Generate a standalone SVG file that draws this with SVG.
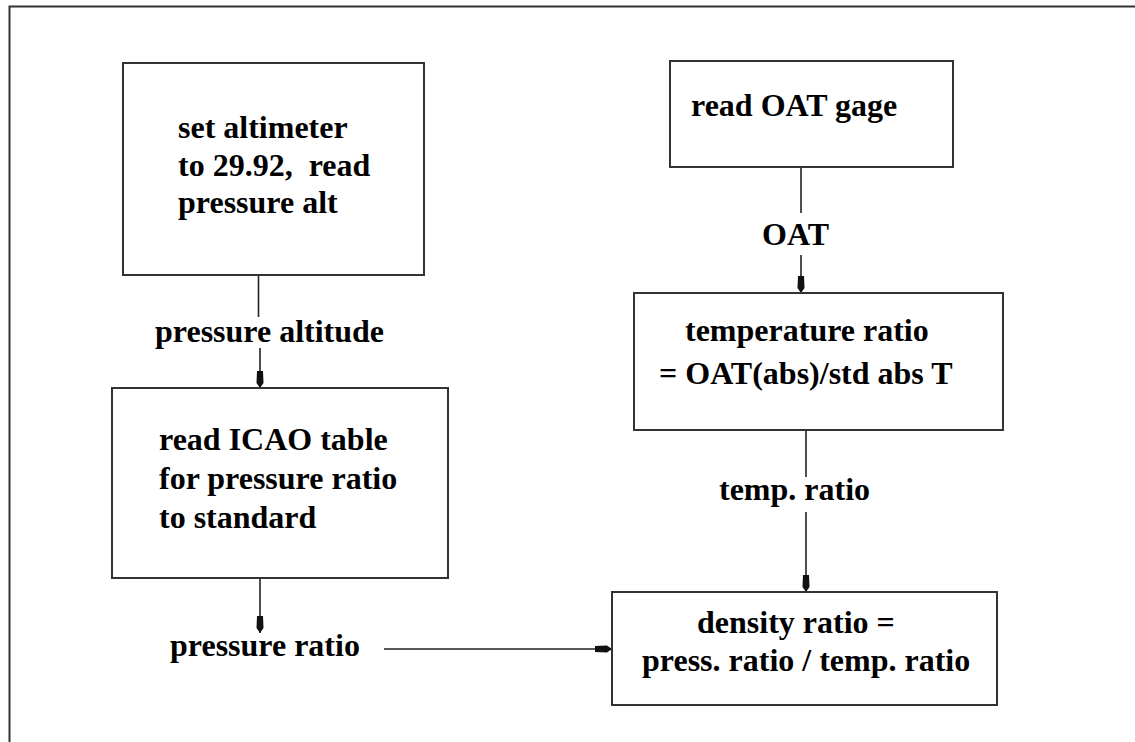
<svg xmlns="http://www.w3.org/2000/svg" width="1135" height="742" viewBox="0 0 1135 742">
<style>
.box{fill:#fff;stroke:#333;stroke-width:2}
.t{font-family:"Liberation Serif","Times New Roman",serif;font-weight:bold;font-size:32px;fill:#000}
.c{stroke:#222;stroke-width:1.6;fill:none}
</style>
<defs>
<marker id="ah" markerUnits="userSpaceOnUse" viewBox="-18 -5 20 10" refX="0" refY="0" markerWidth="20" markerHeight="10" orient="auto">
<path d="M0,0 L-5,-3.5 L-17,-3 L-17,3 L-5,3.5 Z" fill="#111"/>
</marker>
</defs>
<rect width="1135" height="742" fill="#fff"/>
<path d="M9.5,742 V6.5 H1135" fill="none" stroke="#333" stroke-width="2"/>
<g id="connectors">
<line class="c" x1="258.5" y1="275" x2="258.5" y2="317"/>
<line class="c" x1="260" y1="348" x2="260" y2="388" marker-end="url(#ah)"/>
<line class="c" x1="260" y1="578" x2="260" y2="633" marker-end="url(#ah)"/>
<line class="c" x1="384" y1="649" x2="612" y2="649" marker-end="url(#ah)"/>
<line class="c" x1="801" y1="167" x2="801" y2="213"/>
<line class="c" x1="801" y1="255" x2="801" y2="293" marker-end="url(#ah)"/>
<line class="c" x1="806" y1="430" x2="806" y2="477"/>
<line class="c" x1="806" y1="512" x2="806" y2="592" marker-end="url(#ah)"/>
<text class="t" x="155" y="342">pressure altitude</text>
<text class="t" x="170" y="656">pressure ratio</text>
<text class="t" x="762" y="245">OAT</text>
<text class="t" x="719" y="500">temp. ratio</text>
</g>
<g id="n1">
<rect class="box" x="123" y="63" width="301" height="212"/>
<text class="t" x="178" y="138">set altimeter</text>
<text class="t" x="178" y="176" xml:space="preserve">to 29.92,  read</text>
<text class="t" x="178" y="213">pressure alt</text>
</g>
<g id="n2">
<rect class="box" x="112" y="388" width="336" height="190"/>
<text class="t" x="159" y="450">read ICAO table</text>
<text class="t" x="159" y="489">for pressure ratio</text>
<text class="t" x="159" y="528">to standard</text>
</g>
<g id="n3">
<rect class="box" x="670" y="61" width="283" height="106"/>
<text class="t" x="691" y="116">read OAT gage</text>
</g>
<g id="n4">
<rect class="box" x="634" y="293" width="369" height="137"/>
<text class="t" x="685" y="341">temperature ratio</text>
<text class="t" x="659" y="384">= OAT(abs)/std abs T</text>
</g>
<g id="n5">
<rect class="box" x="612" y="592" width="385" height="113"/>
<text class="t" x="697" y="633">density ratio =</text>
<text class="t" x="642" y="671">press. ratio / temp. ratio</text>
</g>
</svg>
